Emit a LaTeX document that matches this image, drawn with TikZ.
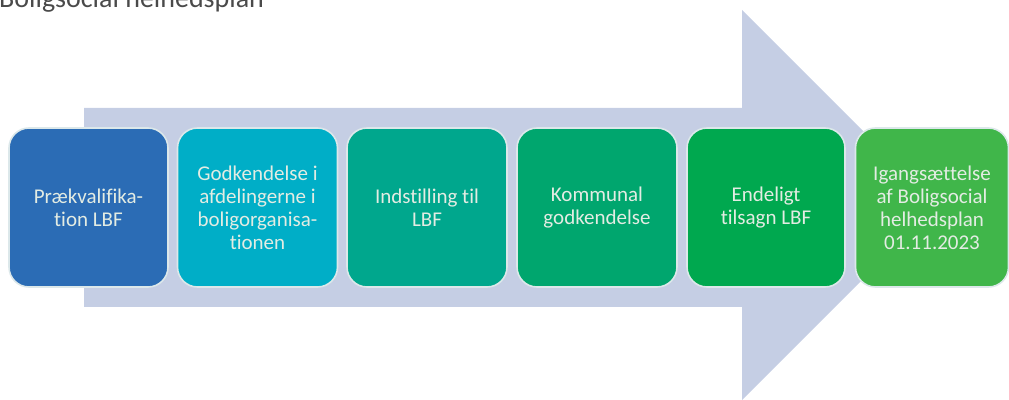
\documentclass[tikz,border=0pt]{standalone}
\usepackage{fontspec}
\setmainfont[Ligatures=NoCommon]{Carlito}
\begin{document}
\begin{tikzpicture}[x=1pt,y=1pt,
  stepbox/.style={rounded corners=20pt, draw=boxline, line width=1.6pt,
    minimum height=159pt, inner sep=3pt, align=center, text=boxtext,
    font=\fontsize{21}{23}\selectfont},
  titletext/.style={anchor=base west, inner sep=0pt, text=titlegray,
    font=\fontsize{28}{32}\selectfont}]
\definecolor{arrowcol}{HTML}{C5CEE4}
\definecolor{boxline}{HTML}{DCE8EA}
\definecolor{boxtext}{HTML}{E3ECE3}
\definecolor{titlegray}{HTML}{4A4A4A}
\definecolor{cA}{HTML}{2B6CB5}
\definecolor{cB}{HTML}{00AEC7}
\definecolor{cC}{HTML}{00A78D}
\definecolor{cD}{HTML}{00A66E}
\definecolor{cE}{HTML}{00A84F}
\definecolor{cF}{HTML}{40B64A}
\useasboundingbox (0,0) rectangle (1009,399);
\clip (0,0) rectangle (1009,399);
% big background arrow
\fill[arrowcol] (84,291) -- (742,291) -- (742,389) -- (937,194) -- (742,-1) -- (742,92) -- (84,92) -- cycle;
% title (cut off at the top, as in the reference)
\node[titletext] (title) at (-1,391) {Boligsocial helhedsplan};
% steps
\node[stepbox, fill=cA, minimum width=159pt] (s1) at (88.5,191.5) {Prækvalifika-\\tion LBF};
\node[stepbox, fill=cB, minimum width=160pt] (s2) at (257.5,191.5) {Godkendelse i\\afdelingerne i\\boligorganisa-\\tionen};
\node[stepbox, fill=cC, minimum width=160pt] (s3) at (427,191.5) {Indstilling til\\LBF};
\node[stepbox, fill=cD, minimum width=160pt] (s4) at (597,191.5) {Kommunal\\godkendelse};
\node[stepbox, fill=cE, minimum width=158pt] (s5) at (766,191.5) {Endeligt\\tilsagn LBF};
\node[stepbox, fill=cF, minimum width=153pt] (s6) at (932,191.5) {Igangsættelse\\af Boligsocial\\helhedsplan\\01.11.2023};
\end{tikzpicture}
\end{document}
